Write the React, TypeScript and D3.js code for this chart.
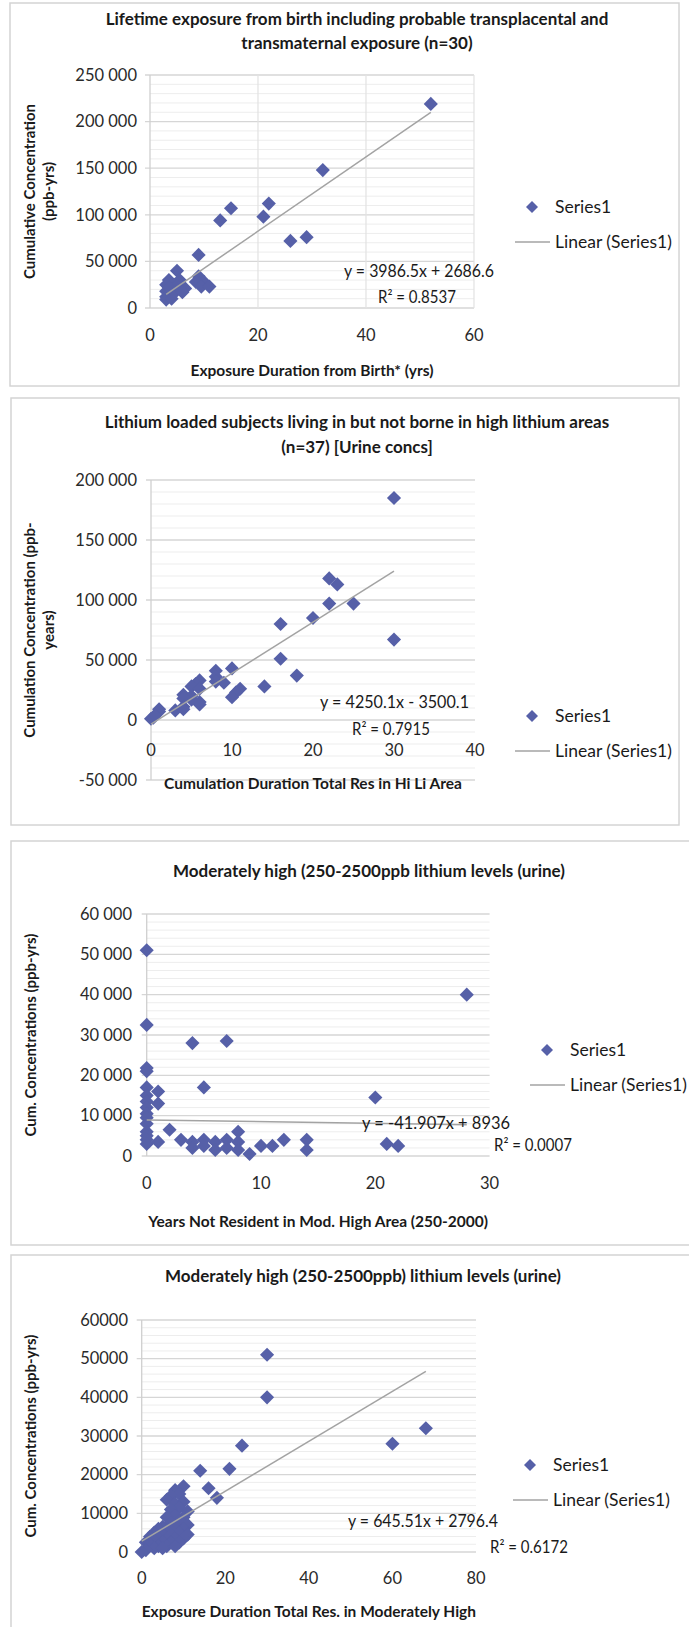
import React from "react";
import * as d3 from "d3";

const W = 689;
const H = 1627;
const FONT = "Lato, 'Open Sans', sans-serif";
const MARK = "#5660a8";

// ---- panel 1: lifetime exposure from birth (n=30)
const p1X = [52, 32, 22, 21, 15, 13, 26, 29, 9, 5, 9, 8.5, 10, 9.5, 11, 3.5, 5.5, 4.5, 3, 3, 5, 6.5, 3, 4, 3, 4, 5, 6, 4, 3.5];
const p1Y = [219000, 148000, 112000, 98000, 107000, 94000, 72000, 76000, 57000, 40000, 34000, 28000, 28000, 23000, 23000, 30000, 30000, 25000, 25000, 18000, 19000, 21000, 12000, 14000, 9000, 20000, 24000, 17000, 10000, 22000];
const p1XTicks = [0, 20, 40, 60];
const p1YTicks = [0, 50000, 100000, 150000, 200000, 250000];

// ---- panel 2: living in but not borne in high lithium areas (n=37)
const p2X = [30, 22, 23, 22, 25, 20, 16, 30, 16, 18, 14, 10, 8, 8, 8, 9, 11, 10.5, 10, 6, 5.5, 5, 6, 4, 5, 6, 6, 5, 4, 4, 3, 4, 1, 1, 0.3, 0, 0.5];
const p2Y = [185000, 118000, 113000, 97000, 97000, 85000, 80000, 67000, 51000, 37000, 28000, 43000, 41000, 36000, 32000, 31000, 26000, 23000, 19000, 33000, 30000, 28000, 26000, 21000, 20000, 15000, 13000, 17000, 18000, 11000, 8000, 9000, 7000, 9000, 2000, 1000, 4000];
const p2XTicks = [0, 10, 20, 30, 40];
const p2YTicks = [-50000, 0, 50000, 100000, 150000, 200000];

// ---- panel 3: years not resident in moderately high area
const p3X = [0, 0, 0, 0, 0, 0, 0, 0, 0, 0, 0, 0, 0, 0, 0, 1, 1, 1, 2, 3, 4, 4, 4, 5, 5, 5, 6, 6, 7, 7, 7, 8, 8, 8, 9, 10, 11, 12, 14, 14, 20, 21, 22, 28];
const p3Y = [51000, 32500, 21800, 21000, 17000, 15000, 13500, 12000, 10500, 9500, 8000, 6000, 5000, 4000, 3000, 16000, 13000, 3500, 6500, 4000, 28000, 3500, 2000, 17000, 4000, 2500, 3500, 1500, 28500, 4000, 2000, 6000, 3500, 1500, 500, 2500, 2500, 4000, 4000, 1500, 14500, 3000, 2500, 40000];
const p3XTicks = [0, 10, 20, 30];
const p3YTicks = [0, 10000, 20000, 30000, 40000, 50000, 60000];

// ---- panel 4: exposure duration total residence in moderately high
const p4X = [30, 30, 68, 60, 24, 21, 14, 16, 18, 10, 8, 9, 7, 6, 10, 8, 9, 7, 11, 10, 8, 6, 9, 7, 11, 5, 8, 4, 10, 6, 3, 9, 5, 7, 11, 2, 4, 8, 10, 3, 6, 1, 5, 7, 9, 2, 4, 6, 8, 3, 1, 0, 5];
const p4Y = [51000, 40000, 32000, 28000, 27500, 21500, 21000, 16500, 14000, 17000, 16000, 15000, 14500, 13500, 13000, 12500, 11500, 11000, 10500, 9000, 9500, 9000, 8000, 7500, 7000, 6500, 6500, 6000, 6000, 5500, 5000, 5000, 4500, 4500, 4500, 4000, 3500, 3500, 3500, 3000, 3000, 2500, 2500, 2500, 2500, 2000, 1500, 1500, 1500, 1000, 500, 0, 1000];
const p4XTicks = [0, 20, 40, 60, 80];
const p4YTicks = [0, 10000, 20000, 30000, 40000, 50000, 60000];

// trend lines as printed on the charts
const slopes = [3986.5, 4250.1, -41.907, 645.51];
const intercepts = [2686.6, -3500.1, 8936, 2796.4];
const eqTexts = ["y = 3986.5x + 2686.6", "y = 4250.1x - 3500.1", "y = -41.907x + 8936", "y = 645.51x + 2796.4"];
const r2Texts = ["R² = 0.8537", "R² = 0.7915", "R² = 0.0007", "R² = 0.6172"];

const spaced = d3
  .formatLocale({ decimal: ".", thousands: " ", grouping: [3], currency: ["", ""], minus: "-" })
  .format(",d");
const plain = d3.format("d");

const panels = [
  {
    xs: p1X, ys: p1Y, xTicks: p1XTicks, yTicks: p1YTicks, minor: 10000, vgrid: true, fmt: spaced,
    box: [10, 3, 669, 383], rightBorder: true,
    px: [150, 474], py: [308, 75],
    title: ["Lifetime exposure from birth including probable transplacental and", "transmaternal exposure (n=30)"],
    titleY: [25, 49], titleX: 357,
    yTitle: ["Cumulative Concentration", "(ppb-yrs)"], yTitleX: [35, 54],
    xTitle: "Exposure Duration from Birth* (yrs)", xTickY: 341, xTitleY: 376, yLabR: 137,
    eq: [344, 277, 150], r2: [378, 303], legend: [532, 207],
  },
  {
    xs: p2X, ys: p2Y, xTicks: p2XTicks, yTicks: p2YTicks, minor: 10000, vgrid: false, fmt: spaced,
    box: [11, 398, 668, 427], rightBorder: true,
    px: [151, 475], py: [780, 480],
    title: ["Lithium loaded subjects living in but not borne in high lithium areas", "(n=37) [Urine concs]"],
    titleY: [428, 453], titleX: 357,
    yTitle: ["Cumulation Concentration (ppb-", "years)"], yTitleX: [35, 54],
    xTitle: "Cumulation Duration Total Res in Hi Li Area", xTickY: 756, xTitleY: 789, yLabR: 137,
    eq: [320, 708, 149], r2: [352, 735], legend: [532, 716],
  },
  {
    xs: p3X, ys: p3Y, xTicks: p3XTicks, yTicks: p3YTicks, minor: 2000, vgrid: false, fmt: spaced,
    box: [11, 841, 720, 404], rightBorder: false,
    px: [146.7, 489.6], py: [1156, 914],
    title: ["Moderately high (250-2500ppb lithium levels (urine)"],
    titleY: [877], titleX: 369,
    yTitle: ["Cum. Concentrations (ppb-yrs)"], yTitleX: [36],
    xTitle: "Years Not Resident in Mod. High Area (250-2000)", xTickY: 1189, xTitleY: 1227, yLabR: 132,
    eq: [362, 1129, 148], r2: [494, 1151], legend: [547, 1050],
  },
  {
    xs: p4X, ys: p4Y, xTicks: p4XTicks, yTicks: p4YTicks, minor: 2000, vgrid: false, fmt: plain,
    box: [11, 1255, 720, 420], rightBorder: false,
    px: [141.7, 476], py: [1552, 1320],
    title: ["Moderately high (250-2500ppb) lithium levels (urine)"],
    titleY: [1282], titleX: 363,
    yTitle: ["Cum. Concentrations (ppb-yrs)"], yTitleX: [36],
    xTitle: "Exposure Duration Total Res. in Moderately High", xTickY: 1584, xTitleY: 1617, yLabR: 128,
    eq: [348, 1527, 150], r2: [490, 1553], legend: [530, 1465],
  },
];

const diamond = d3.symbol(d3.symbolSquare, 100)() as string;
const LEG_GAP = 35;

const Panel: React.FC<{ p: (typeof panels)[number]; i: number }> = ({ p, i }) => {
  const x = d3.scaleLinear().domain([p.xTicks[0], p.xTicks[p.xTicks.length - 1]]).range(p.px);
  const y = d3.scaleLinear().domain([p.yTicks[0], p.yTicks[p.yTicks.length - 1]]).range(p.py);
  const [yMin, yMax] = y.domain();
  const minorTicks = d3.range(yMin, yMax, p.minor).filter((v) => !p.yTicks.includes(v));
  const [bx, by, bw, bh] = p.box;
  const xLo = d3.min(p.xs)!;
  const xHi = d3.max(p.xs)!;
  const line = d3.line<number>().x((v) => x(v)).y((v) => y(slopes[i] * v + intercepts[i]));
  const [lx, ly] = p.legend;
  const yMid = (p.py[0] + p.py[1]) / 2;
  const xMid = (p.px[0] + p.px[1]) / 2;

  return (
    <g>
      {p.rightBorder ? (
        <rect x={bx} y={by} width={bw} height={bh} fill="white" stroke="#d4d4d4" strokeWidth={1.5} />
      ) : (
        <path d={`M${bx + bw},${by}H${bx}V${by + bh}H${bx + bw}`} fill="none" stroke="#d4d4d4" strokeWidth={1.5} />
      )}

      {/* titles */}
      {p.title.map((t, k) => (
        <text key={k} x={p.titleX} y={p.titleY[k]} textAnchor="middle" fontSize={17} fontWeight="bold" fill="#1a1a1a">
          {t}
        </text>
      ))}

      {/* grid */}
      {minorTicks.map((v) => (
        <line key={"m" + v} x1={p.px[0]} x2={p.px[1]} y1={y(v)} y2={y(v)} stroke="#ededed" strokeWidth={1} />
      ))}
      {p.yTicks.map((v) => (
        <line key={"g" + v} x1={p.px[0] - 5} x2={p.px[1]} y1={y(v)} y2={y(v)} stroke="#d6d6d6" strokeWidth={1.3} />
      ))}
      {p.vgrid &&
        p.xTicks.slice(1).map((v) => (
          <line key={"v" + v} x1={x(v)} x2={x(v)} y1={p.py[0]} y2={p.py[1]} stroke="#e2e2e2" strokeWidth={1.2} />
        ))}
      <line x1={p.px[0]} x2={p.px[0]} y1={p.py[0]} y2={p.py[1]} stroke="#cfcfcf" strokeWidth={1.3} />

      {/* tick labels */}
      {p.yTicks.map((v) => (
        <text key={"yl" + v} x={p.yLabR} y={y(v)} dy="0.35em" textAnchor="end" fontSize={16.5} fill="#2a2a2a">
          {p.fmt(v)}
        </text>
      ))}
      {p.xTicks.map((v) => (
        <text key={"xl" + v} x={x(v)} y={p.xTickY} textAnchor="middle" fontSize={16.5} fill="#2a2a2a">
          {v}
        </text>
      ))}

      {/* axis titles */}
      <text x={xMid} y={p.xTitleY} textAnchor="middle" fontSize={15.5} fontWeight="bold" fill="#1a1a1a">
        {p.xTitle}
      </text>
      {p.yTitle.map((t, k) => (
        <text
          key={k}
          transform={`translate(${p.yTitleX[k]},${yMid}) rotate(-90)`}
          textAnchor="middle"
          fontSize={15}
          fontWeight="bold"
          fill="#1a1a1a"
        >
          {t}
        </text>
      ))}

      {/* points */}
      {p.xs.map((v, k) => (
        <path key={"p" + k} d={diamond} transform={`translate(${x(v)},${y(p.ys[k])}) rotate(45)`} fill={MARK} />
      ))}

      {/* trend */}
      <path d={line([xLo, xHi])!} fill="none" stroke="#a3a3a3" strokeWidth={1.5} />
      <text x={p.eq[0]} y={p.eq[1]} fontSize={17} fill="#1a1a1a" textLength={p.eq[2]} lengthAdjust="spacingAndGlyphs">
        {eqTexts[i]}
      </text>
      <text x={p.r2[0]} y={p.r2[1]} fontSize={17} fill="#1a1a1a" textLength={78} lengthAdjust="spacingAndGlyphs">
        {r2Texts[i]}
      </text>

      {/* legend */}
      <path d={diamond} transform={`translate(${lx},${ly}) rotate(45) scale(0.85)`} fill={MARK} />
      <text x={lx + 23} y={ly} dy="0.35em" fontSize={17.5} fill="#1a1a1a">
        Series1
      </text>
      <line x1={lx - 17} x2={lx + 18} y1={ly + LEG_GAP} y2={ly + LEG_GAP} stroke="#a3a3a3" strokeWidth={1.5} />
      <text x={lx + 23} y={ly + LEG_GAP} dy="0.35em" fontSize={17.5} fill="#1a1a1a">
        Linear (Series1)
      </text>
    </g>
  );
};

const App: React.FC = () => (
  <svg
    width={W}
    height={H}
    viewBox={`0 0 ${W} ${H}`}
    style={{ position: "absolute", left: 0, top: 0, fontFamily: FONT, background: "white" }}
  >
    <rect width={W} height={H} fill="white" />
    {panels.map((p, i) => (
      <Panel key={i} p={p} i={i} />
    ))}
  </svg>
);

export default App;
